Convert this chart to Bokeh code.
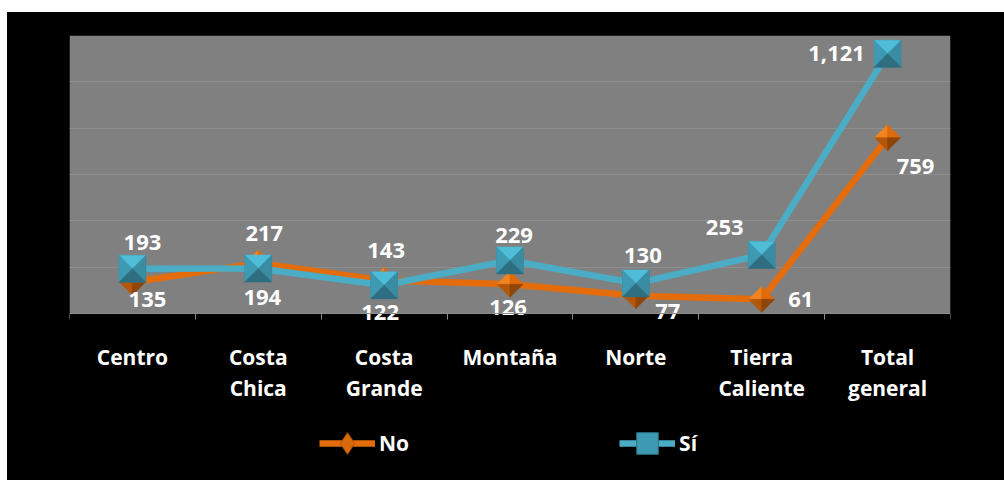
from bokeh.plotting import figure
from bokeh.models import (ColumnDataSource, FixedTicker, Legend, LegendItem, Range1d, Spacer, BoxAnnotation)
from bokeh.layouts import column, row
from bokeh.core.properties import value
from bokeh.embed import file_html
from bokeh.resources import INLINE

# ---- data ----
categories = ["Centro", "Costa Chica", "Costa Grande", "Montaña", "Norte", "Tierra Caliente", "Total general"]
tick_labels = ["Centro", "Costa\nChica", "Costa\nGrande", "Montaña", "Norte", "Tierra\nCaliente", "Total\ngeneral"]
series_names = ["No", "Sí"]
no_values = [135, 217, 143, 126, 77, 61, 759]
si_values = [193, 194, 122, 229, 130, 253, 1121]
grid_ticks = [200, 400, 600, 800, 1000]

# ---- style ----
FONT = "Open Sans"
W, H = 997, 468
ML, MR, MT, MB = 62, 54, 23, 0
FW, FH = W - ML - MR, H - MT - MB
PLOT_H = 278           # pixel height of the grey plotting band (0..1200)
YTOP = 1200
ORANGE = "#E46C0A"
BLUE = "#4BACC6"
# label offsets in screen px (dx, dy)
no_label_off = [(15, 17), (6, -30), (2, -30), (-2, 23), (32, 16), (39, 0), (28, 29)]
si_label_off = [(10, -26), (4, 29), (-4, 27), (4, -25), (7, -28), (-37, -27), (-51, 0)]

XMIN, XMAX = -0.5, len(categories) - 0.5
ypx = YTOP / PLOT_H
xpx = (XMAX - XMIN) / FW
YMIN = -(FH - PLOT_H) * ypx
xs = list(range(len(categories)))

p = figure(width=W, height=H, x_range=Range1d(XMIN, XMAX), y_range=Range1d(YMIN, YTOP),
           output_backend="svg", toolbar_location=None,
           min_border_left=ML, min_border_right=MR, min_border_top=MT, min_border_bottom=MB)
# black comes from the element's CSS background, so no fill seams appear
p.border_fill_alpha = 0
p.background_fill_alpha = 0
p.styles = {"background-color": "black"}
p.outline_line_color = None
p.yaxis.visible = False
p.xgrid.grid_line_color = None
p.ygrid.ticker = FixedTicker(ticks=grid_ticks)
p.ygrid.grid_line_color = "#8e8e8e"
p.ygrid.grid_line_width = 1
# grey plotting band (0..1200); drawn before the grid lines
band = BoxAnnotation(bottom=0, top=YTOP, fill_color="#808080", fill_alpha=1, line_color=None, level="underlay")
p.center = [band] + list(p.center)

ax = p.xaxis[0]
ax.fixed_location = 0
ax.ticker = FixedTicker(ticks=xs, minor_ticks=[i - 0.5 for i in range(len(categories) + 1)])
ax.major_label_overrides = {i: t for i, t in enumerate(tick_labels)}
ax.major_tick_line_color = None
ax.major_tick_out = 0
ax.major_tick_in = 0
ax.minor_tick_out = 6
ax.minor_tick_in = 0
ax.minor_tick_line_color = "#8c8c8c"
ax.axis_line_color = "#8c8c8c"
ax.major_label_standoff = 23
ax.major_label_text_color = "white"
ax.major_label_text_font = FONT
ax.major_label_text_font_style = "bold"
ax.major_label_text_font_size = "21px"
ax.major_label_text_line_height = 1.12


def diamond_facets(vals, half):
    dx, dy = half * xpx, half * ypx
    pxs, pys, cols = [], [], []
    colors = ["#F08420", "#E06A08", "#B4570A", "#8E4508"]
    for x, y in zip(xs, vals):
        L, T, R, B, C = (x - dx, y), (x, y + dy), (x + dx, y), (x, y - dy), (x, y)
        for tri, c in zip([(L, T, C), (T, R, C), (L, B, C), (R, B, C)], colors):
            pxs.append([pt[0] for pt in tri]); pys.append([pt[1] for pt in tri]); cols.append(c)
    return ColumnDataSource(dict(xs=pxs, ys=pys, color=cols))


def square_facets(vals, half):
    dx, dy = half * xpx, half * ypx
    pxs, pys, cols = [], [], []
    colors = ["#4FBCD8", "#3D9AB2", "#3A8CA2", "#2E6E80"]
    for x, y in zip(xs, vals):
        TL, TR, BL, BR, C = (x - dx, y + dy), (x + dx, y + dy), (x - dx, y - dy), (x + dx, y - dy), (x, y)
        for tri, c in zip([(TL, TR, C), (TL, BL, C), (TR, BR, C), (BL, BR, C)], colors):
            pxs.append([pt[0] for pt in tri]); pys.append([pt[1] for pt in tri]); cols.append(c)
    return ColumnDataSource(dict(xs=pxs, ys=pys, color=cols))


# No series
no_l = p.line(xs, no_values, line_color=ORANGE, line_width=6.5, line_join="round")
no_m = p.scatter(xs, no_values, marker="diamond", size=24, fill_color="#D8680C", line_color="#A85208")
p.patches("xs", "ys", source=diamond_facets(no_values, 13), fill_color="color", line_color="color", line_width=0.5)

# Sí series
si_l = p.line(xs, si_values, line_color=BLUE, line_width=6.5, line_join="round")
si_m = p.scatter(xs, si_values, marker="square", size=26, fill_color="#3D9AB2", line_color="#2E6E80")
p.patches("xs", "ys", source=square_facets(si_values, 13.5), fill_color="color", line_color="color", line_width=0.5)

# data labels
for vals, offs in ((no_values, no_label_off), (si_values, si_label_off)):
    src = ColumnDataSource(dict(x=xs, y=vals, t=[f"{v:,}" for v in vals],
                                dx=[o[0] for o in offs], dy=[o[1] for o in offs]))
    p.text("x", "y", text="t", source=src, x_offset="dx", y_offset="dy",
           text_align="center", text_baseline="middle", text_color="white",
           text_font=value(FONT), text_font_style="bold", text_font_size="22px")

legend = Legend(items=[LegendItem(label=series_names[0], renderers=[no_l, no_m]),
                       LegendItem(label=series_names[1], renderers=[si_l, si_m])],
                orientation="horizontal", location=(250, 10),
                glyph_width=56, glyph_height=54, label_standoff=4, spacing=210,
                label_text_color="white", label_text_font=FONT, label_text_font_style="bold",
                label_text_font_size="21px", background_fill_alpha=0, border_line_color=None,
                margin=0, padding=0)
p.add_layout(legend, "center")

layout = column(Spacer(width=W, height=12), row(Spacer(width=7, height=H), p))
open("out.html", "w").write(file_html(layout, INLINE))
